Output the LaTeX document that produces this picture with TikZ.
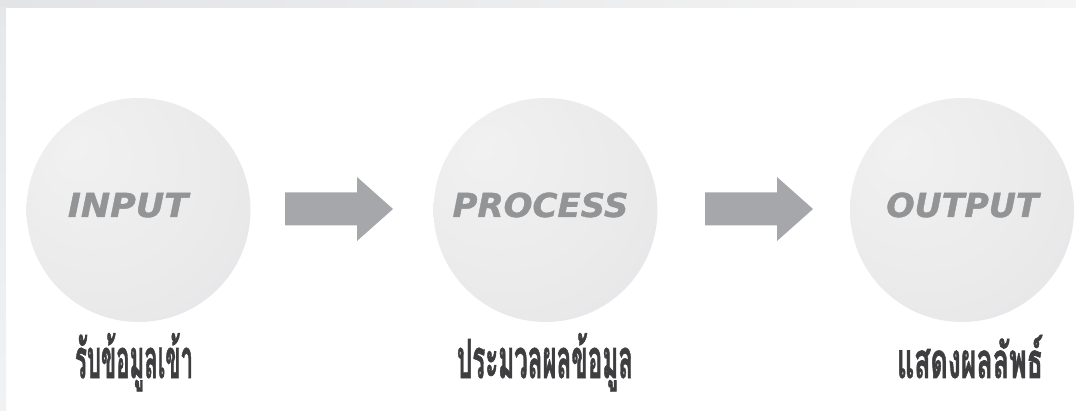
\documentclass[tikz,border=0pt]{standalone}
\usepackage{fontspec}
\newfontfamily\thaifont[Script=Thai,FakeBold=1.5]{Loma}
\newfontfamily\headfont[FakeBold=1.2]{DejaVu Sans}
\definecolor{orbA}{HTML}{F1F1F2}
\definecolor{orbB}{HTML}{EBEBEC}
\definecolor{orbC}{HTML}{E3E3E5}
\definecolor{orbD}{HTML}{D4D4D7}
\definecolor{wordgray}{HTML}{939496}
\definecolor{arrowgray}{HTML}{A6A7AA}
\definecolor{thaigray}{HTML}{3E3E40}
\definecolor{barL}{HTML}{E3E4E6}
\definecolor{barR}{HTML}{F5F5F5}
\definecolor{sideT}{HTML}{E6E7E9}
\definecolor{sideB}{HTML}{F1F2F3}
\pgfdeclareradialshading{orb}{\pgfpoint{-14bp}{14bp}}{color(0bp)=(orbA); color(25bp)=(orbB); color(50bp)=(orbC); color(66bp)=(orbD)}
\tikzset{
  ball/.style={circle, minimum size=224pt, inner sep=0pt, shading=orb},
  word/.style={font=\headfont\bfseries\itshape\fontsize{33}{33}\selectfont, text=wordgray, inner sep=0pt, anchor=base},
  thailabel/.style={text=thaigray, inner sep=0pt, anchor=base},
  blockarrow/.style={fill=arrowgray}
}
\begin{document}
\begin{tikzpicture}[x=1pt,y=1pt]
\useasboundingbox (0,0) rectangle (1076,410);
% frame
\shade[left color=barL, right color=barR] (0,402) rectangle (1076,410);
\shade[top color=sideT, bottom color=sideB] (0,0) rectangle (6,402);
% circles
\node[ball] (in) at (138.5,200) {};
\node[ball] (pr) at (545.5,200) {};
\node[ball] (out) at (962,200) {};
% words
\node[word] (inT) at (128,193) {\scalebox{1.06}[1]{INPUT}};
\node[word] (prT) at (540.5,193) {\scalebox{1.03}[1]{PROCESS}};
\node[word] (outT) at (962.5,193) {\scalebox{1.01}[1]{OUTPUT}};
% arrows
\coordinate (a1) at (285,201);
\coordinate (a2) at (705,201);
\fill[blockarrow] ([yshift=16.5pt]a1) -- ++(72,0) -- ++(0,15.5) -- ++(36,-32) -- ++(-36,-32) -- ++(0,15.5) -- ++(-72,0) -- cycle;
\fill[blockarrow] ([yshift=16.5pt]a2) -- ++(72,0) -- ++(0,15.5) -- ++(36,-32) -- ++(-36,-32) -- ++(0,15.5) -- ++(-72,0) -- cycle;
% thai labels
\node[thailabel] (inL) at (134,32) {\resizebox{118pt}{45pt}{\thaifont\bfseries รับข้อมูลเข้า}};
\node[thailabel] (prL) at (545,32) {\resizebox{176pt}{45pt}{\thaifont\bfseries ประมวลผลข้อมูล}};
\node[thailabel] (outL) at (970,32) {\resizebox{146pt}{43pt}{\thaifont\bfseries แสดงผลลัพธ์}};
\end{tikzpicture}
\end{document}
